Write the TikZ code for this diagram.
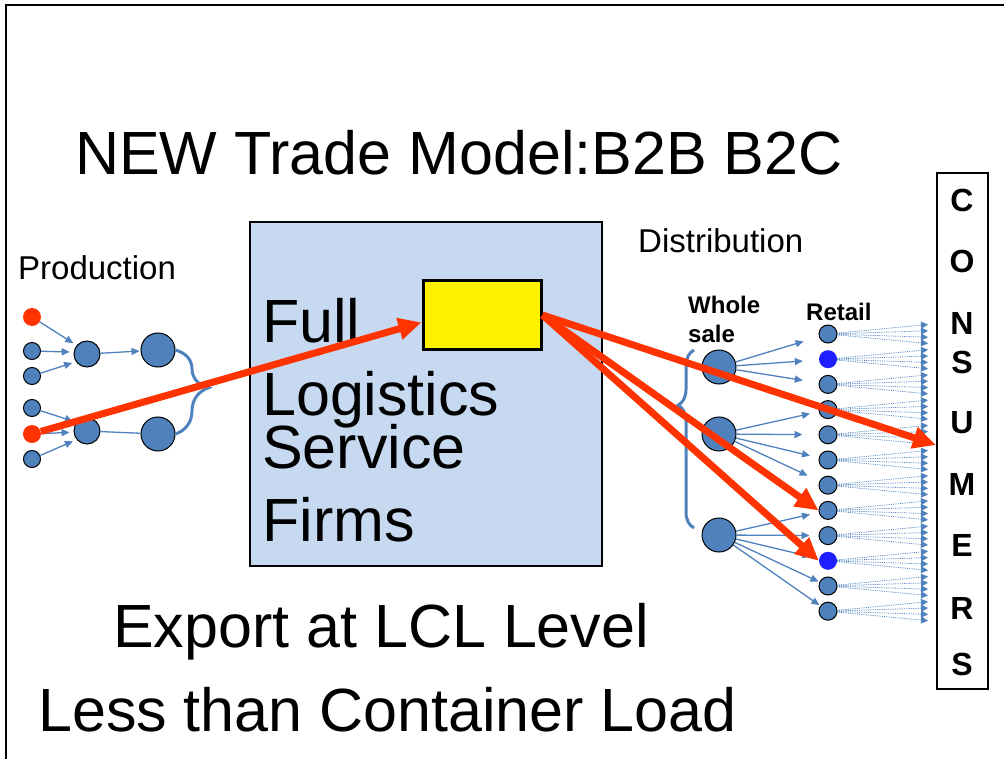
\documentclass[tikz,border=0pt]{standalone}
\usepackage{fontspec}
\setmainfont{Liberation Sans}
\usepackage{tikz}
\usetikzlibrary{arrows.meta,decorations.pathreplacing}
\definecolor{nodeblue}{RGB}{79,129,189}
\definecolor{boxblue}{RGB}{198,217,240}
\definecolor{hotred}{RGB}{255,51,0}
\definecolor{brightblue}{RGB}{30,30,255}

\begin{document}
\begin{tikzpicture}[x=1pt,y=-1pt,
    every node/.style={inner sep=0pt},
    bigtext/.style={anchor=base west,font=\fontsize{61}{61}\selectfont},
    midtext/.style={anchor=base west,font=\fontsize{33}{33}\selectfont},
    boldtext/.style={anchor=base west,font=\bfseries\fontsize{24}{24}\selectfont},
    letter/.style={font=\bfseries\fontsize{32}{32}\selectfont},
    dot/.style={circle,draw=black,line width=1pt,fill=nodeblue,minimum size=17pt},
    reddot/.style={circle,fill=hotred,minimum size=18pt},
    hotspot/.style={circle,fill=brightblue,minimum size=18pt},
    bluearrow/.style={draw=nodeblue,line width=1.3pt,-{Triangle[length=8pt,width=7pt]}},
    fan/.style={draw=nodeblue,line width=0.8pt,densely dotted,-{Triangle[length=7pt,width=7pt]}},
    redarrow/.style={draw=hotred,line width=7pt,-{Triangle[length=23pt,width=21pt]}},
    bluebrace/.style={draw=nodeblue,line width=3pt,decorate}]
  \useasboundingbox (0,0) rectangle (1004,759);
  \draw[line width=2.5pt] (6,759) -- (6,5) -- (1004,5);

  \node[bigtext] (title) at (75,175) {NEW Trade Model:B2B B2C};

  % logistics firm in the middle
  \node[draw,line width=1.5pt,fill=boxblue,minimum width=352pt,minimum height=344pt] (lsp) at (426,394) {};
  \node[draw,line width=3pt,fill=yellow,minimum width=118pt,minimum height=68pt] (hub) at (482,315) {};
  \node[bigtext] (full) at (262,342) {Full};
  \node[bigtext] (logi) at (262,415) {Logistics};
  \node[bigtext] (serv) at (262,468) {Service};
  \node[bigtext] (firms) at (262,541) {Firms};
  \node[bigtext] (export) at (113,647) {Export at LCL Level};
  \node[bigtext] (lcl) at (38,731) {Less than Container Load};

  % production side
  \node[midtext] (prod) at (18,280) {Production};
  \node[reddot] (p1) at (32,317) {};
  \node[dot] (p2) at (32,351) {};
  \node[dot] (p3) at (32,376) {};
  \node[dot] (p4) at (32,408) {};
  \node[reddot] (p5) at (32,434) {};
  \node[dot] (p6) at (32,459) {};
  \node[dot,minimum size=26pt] (m1) at (87,354) {};
  \node[dot,minimum size=26pt] (m2) at (87,431) {};
  \node[dot,minimum size=34pt] (l1) at (158,350) {};
  \node[dot,minimum size=34pt] (l2) at (158,434) {};
  \draw[bluearrow,shorten >=4pt] (p1) -- (m1.140);
  \draw[bluearrow,shorten >=4pt] (p2) -- (m1.172);
  \draw[bluearrow,shorten >=4pt] (p3) -- (m1.215);
  \draw[bluearrow,shorten >=4pt] (p4) -- (m2.140);
  \draw[bluearrow,shorten >=4pt] (p5) -- (m2.185);
  \draw[bluearrow,shorten >=4pt] (p6) -- (m2.220);
  \draw[bluearrow,shorten >=1pt] (m1) -- (l1);
  \draw[draw=nodeblue,line width=1.3pt] (m2) -- (l2);
  \draw[bluebrace,decoration={brace,amplitude=33pt,aspect=0.45}] (l1.east) -- (l2.east);

  % distribution side
  \node[midtext] (dist) at (638,253) {Distribution};
  \node[boldtext] (whole) at (688,313) {Whole};
  \node[boldtext] (sale) at (688,342) {sale};
  \node[boldtext] (retail) at (806,320) {Retail};
  \node[dot,minimum size=34pt] (w1) at (719,367) {};
  \node[dot,minimum size=34pt] (w2) at (719,434) {};
  \node[dot,minimum size=34pt] (w3) at (719,535) {};
  \coordinate (bt) at (694,350);
  \coordinate (bb) at (694,528);
  \draw[bluebrace,decoration={brace,mirror,amplitude=16pt,aspect=0.31}] (bt) -- (bb);
  \foreach \i/\st in {1/dot,2/hotspot,3/dot,4/dot,5/dot,6/dot,7/dot,8/dot,9/dot,10/hotspot,11/dot,12/dot}
    \node[\st,minimum size=18pt] (r\i) at (828,{334+25.2*(\i-1)}) {};
  \foreach \a/\b/\s in {w1/r1/16,w1/r2/16,w1/r3/16,w2/r4/9,w2/r5/16,w2/r6/9,w2/r7/13,
                        w3/r8/9,w3/r9/9,w3/r10/9,w3/r11/1,w3/r12/1}
    \draw[bluearrow,shorten >=\s pt] (\a) -- (\b);
  \foreach \i in {1,...,12} {
    \foreach \d [count=\j] in {-9.5,-3.2,3.2,9.5} {
      \coordinate (h\i-\j) at (928,{334+25.2*(\i-1)+\d});
      \draw[fan] (r\i) -- (h\i-\j);
    }
  }

  % consumers column
  \node[draw,line width=2pt,minimum width=51pt,minimum height=516pt] (cons) at (962.5,431) {};
  \node[letter] (c1) at (962,200) {C};
  \node[letter] (c2) at (962,261) {O};
  \node[letter] (c3) at (962,323) {N};
  \node[letter] (c4) at (962,362) {S};
  \node[letter] (c5) at (962,423) {U};
  \node[letter] (c6) at (962,484) {M};
  \node[letter] (c7) at (962,545) {E};
  \node[letter] (c8) at (962,608) {R};
  \node[letter] (c9) at (962,664) {S};

  % flows through the logistics firm
  \draw[redarrow] (p5) -- (hub.187);
  \draw[redarrow] (hub.east) -- ([yshift=-14pt]cons.west);
  \draw[redarrow] (hub.east) -- (r8.west);
  \draw[redarrow] (hub.east) -- (r10.west);
\end{tikzpicture}
\end{document}
